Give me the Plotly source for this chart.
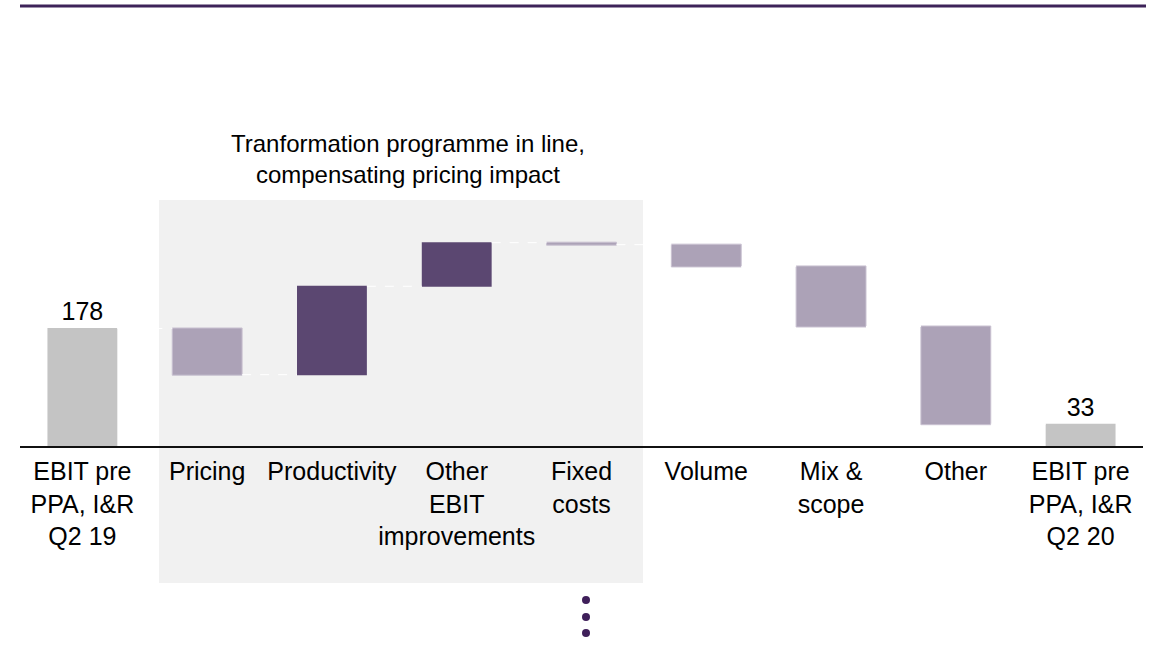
import plotly.graph_objects as go

# ---- data ----
categories = [
    "EBIT pre<br>PPA, I&R<br>Q2 19",
    "Pricing",
    "Productivity",
    "Other<br>EBIT<br>improvements",
    "Fixed<br>costs",
    "Volume",
    "Mix &<br>scope",
    "Other",
    "EBIT pre<br>PPA, I&R<br>Q2 20",
]
values = [178, -70, 134, 66, -3, -33, -91, -148, 33]
measures = ["absolute", "relative", "relative", "relative", "relative",
            "relative", "relative", "relative", "total"]
value_labels = ["178", "", "", "", "", "", "", "", "33"]
title_text = "Tranformation programme in line,<br>compensating pricing impact"

# ---- geometry helpers (pixel -> paper) ----
W, H = 1153, 646
ML, MR, MT, MB = 20, 10, 40, 200
PW, PH = W - ML - MR, H - MT - MB


def px_x(p):
    return (p - ML) / PW


def px_y(p):
    return (H - MB - p) / PH


FONT = "Liberation Sans, Arial, sans-serif"
DARK = "#5B4771"
LIGHT = "#ACA2B7"
GREY = "#C4C4C4"

fig = go.Figure(go.Waterfall(
    x=categories,
    y=values,
    measure=measures,
    text=value_labels,
    textposition="outside",
    textfont=dict(family=FONT, size=25, color="#000000"),
    cliponaxis=False,
    increasing=dict(marker=dict(color=DARK)),
    decreasing=dict(marker=dict(color=LIGHT, line=dict(color="#C9C1D1", width=1))),
    totals=dict(marker=dict(color=GREY)),
    connector=dict(line=dict(color="white", width=1, dash="dash")),
    hoverinfo="skip",
))

shapes = [
    # grey highlight box behind transformation programme bars
    dict(type="rect", xref="paper", yref="paper",
         x0=px_x(159), x1=px_x(643), y0=px_y(583), y1=px_y(200),
         fillcolor="#F1F1F1", line=dict(width=0), layer="below"),
    # top rule
    dict(type="line", xref="paper", yref="paper",
         x0=px_x(20), x1=px_x(1146), y0=px_y(6), y1=px_y(6),
         line=dict(color="#3D2359", width=3)),
]
# vertical ellipsis dots
for cy in (600, 617, 633):
    shapes.append(dict(type="circle", xref="paper", yref="paper",
                       x0=px_x(582), x1=px_x(590), y0=px_y(cy + 4), y1=px_y(cy - 4),
                       fillcolor="#3F1F5A", line=dict(width=0)))

fig.update_layout(
    width=W, height=H,
    margin=dict(l=ML, r=MR, t=MT, b=MB, autoexpand=False),
    paper_bgcolor="white",
    plot_bgcolor="rgba(0,0,0,0)",
    showlegend=False,
    waterfallgap=0.44,
    font=dict(family=FONT, color="#000000"),
    shapes=shapes,
    annotations=[dict(
        text=title_text, xref="paper", yref="paper",
        x=px_x(408), y=px_y(159), xanchor="center", yanchor="middle",
        showarrow=False, font=dict(family=FONT, size=24, color="#000000"),
    )],
    xaxis=dict(
        range=[-0.5, 8.5], showgrid=False, zeroline=False,
        showline=True, linecolor="#111111", linewidth=2,
        ticks="", tickangle=0, automargin=False, ticklabelstandoff=2,
        tickfont=dict(family=FONT, size=25, color="#000000"),
        fixedrange=True,
    ),
    yaxis=dict(range=[0, 615], visible=False, showgrid=False, zeroline=False,
               fixedrange=True, automargin=False),
)

fig.write_html("out.html", config={"displayModeBar": False},
               post_script="document.body.style.margin='0';")
